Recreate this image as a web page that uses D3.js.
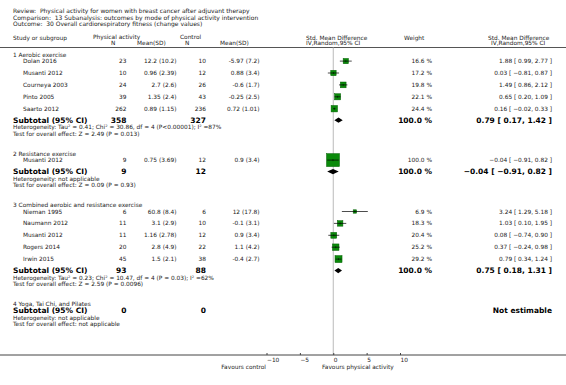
<!DOCTYPE html>
<html>
<head>
<meta charset="utf-8">
<script src="https://cdnjs.cloudflare.com/ajax/libs/d3/7.8.5/d3.min.js"></script>
<style>
	body { margin: 0; background: #fff; }
	text { font-family: "DejaVu Sans", sans-serif; fill: #222; white-space: pre; }
	.b { font-weight: bold; fill: #000; }
</style>
</head>
<body>
<div id="forest"></div>
<script>
var titleLines = [
	'Review:  Physical activity for women with breast cancer after adjuvant therapy',
	'Comparison:  13 Subanalysis: outcomes by mode of physical activity intervention',
	'Outcome:  30 Overall cardiorespiratory fitness (change values)'
];

var groupNames = [
	'1 Aerobic exercise',
	'2 Resistance exercise',
	'3 Combined aerobic and resistance exercise',
	'4 Yoga, Tai Chi, and Pilates'
];

// one entry per study
var studyNames = ['Dolan 2016', 'Musanti 2012', 'Courneya 2003', 'Pinto 2005', 'Saarto 2012',
	'Musanti 2012',
	'Nieman 1995', 'Naumann 2012', 'Musanti 2012', 'Rogers 2014', 'Irwin 2015'];
var studyGroup = [0, 0, 0, 0, 0, 1, 2, 2, 2, 2, 2];
var paN      = [23, 10, 24, 39, 262, 9, 6, 11, 11, 20, 45];
var paMean   = ['12.2 (10.2)', '0.96 (2.39)', '2.7 (2.6)', '1.35 (2.4)', '0.89 (1.15)',
	'0.75 (3.69)',
	'60.8 (8.4)', '3.1 (2.9)', '1.16 (2.78)', '2.8 (4.9)', '1.5 (2.1)'];
var ctlN     = [10, 12, 26, 43, 236, 12, 6, 10, 12, 22, 38];
var ctlMean  = ['-5.97 (7.2)', '0.88 (3.4)', '-0.6 (1.7)', '-0.25 (2.5)', '0.72 (1.01)',
	'0.9 (3.4)',
	'12 (17.8)', '-0.1 (3.1)', '0.9 (3.4)', '1.1 (4.2)', '-0.4 (2.7)'];
var weights  = [16.6, 17.2, 19.8, 22.1, 24.4, 100.0, 6.9, 18.3, 20.4, 25.2, 29.2];
var smd      = [1.88, 0.03, 1.49, 0.65, 0.16, -0.04, 3.24, 1.03, 0.08, 0.37, 0.79];
var ciLow    = [0.99, -0.81, 0.86, 0.20, -0.02, -0.91, 1.29, 0.10, -0.74, -0.24, 0.34];
var ciHigh   = [2.77, 0.87, 2.12, 1.09, 0.33, 0.82, 5.18, 1.95, 0.90, 0.98, 1.24];

// one entry per subgroup
var subPaN   = [358, 9, 93, 0];
var subCtlN  = [327, 12, 88, 0];
var subSmd   = [0.79, -0.04, 0.75, null];
var subLow   = [0.17, -0.91, 0.18, null];
var subHigh  = [1.42, 0.82, 1.31, null];
var heterogeneity = [
	'Heterogeneity: Tau\u00b2 = 0.41; Chi\u00b2 = 30.86, df = 4 (P<0.00001); I\u00b2 =87%',
	'Heterogeneity: not applicable',
	'Heterogeneity: Tau\u00b2 = 0.23; Chi\u00b2 = 10.47, df = 4 (P = 0.03); I\u00b2 =62%',
	'Heterogeneity: not applicable'
];
var overallEffect = [
	'Test for overall effect: Z = 2.49 (P = 0.013)',
	'Test for overall effect: Z = 0.09 (P = 0.93)',
	'Test for overall effect: Z = 2.59 (P = 0.0096)',
	'Test for overall effect: not applicable'
];

var tickValues = [-10, -5, 0, 5, 10];


var width  = 566;
var height = 385;
var small  = 5.85;
var big    = 7.5;

var f2 = d3.format('.2f');
var f1 = d3.format('.1f');
function ciText(e, lo, hi) {
	return f2(e) + ' [ ' + f2(lo) + ', ' + f2(hi) + ' ]';
}

var x_scale = d3.scaleLinear().domain([-10, 10]).range([266.5, 400]);
var box_scale = d3.scaleSqrt().domain([0, 100]).range([0, 13]);

var svg = d3.select('#forest')
	.append('svg')
	.attr('width', width)
	.attr('height', height);

function label(x, y, str, size, anchor, cls) {
	return svg.append('text')
		.attr('x', x)
		.attr('y', y)
		.attr('dy', '0.35em')
		.attr('font-size', size)
		.attr('text-anchor', anchor || 'start')
		.attr('class', cls || null)
		.text(str);
}

// Title block
titleLines.forEach(function(t, i) {
	label(13, 11 + i * 6.6, t, 6.0);
});

// Column headers
label(13, 38, 'Study or subgroup', small);
label(93, 36.5, 'Physical activity', small);
label(111, 43, 'N', small);
label(137, 43, 'Mean(SD)', small);
label(180, 36.5, 'Control', small);
label(185, 43, 'N', small);
label(220, 43, 'Mean(SD)', small);
label(306, 37.5, 'Std. Mean Difference', small);
label(306, 43.3, 'IV,Random,95% CI', small);
label(404, 38, 'Weight', small);
label(488, 37.5, 'Std. Mean Difference', small);
label(491, 43.3, 'IV,Random,95% CI', small);

svg.append('line')
	.attr('x1', 0).attr('x2', width)
	.attr('y1', 47.5).attr('y2', 47.5)
	.attr('stroke', '#555').attr('stroke-width', 1);

var axisY = 355;

// zero line
svg.append('line')
	.attr('x1', x_scale(0)).attr('x2', x_scale(0))
	.attr('y1', 47.5).attr('y2', axisY)
	.attr('stroke', '#bbb').attr('stroke-width', 1);

// Rows
var cursor = 54.5;
groupNames.forEach(function(g, gi) {
	label(13, cursor, g, small);
	cursor += 6.6;

	var n = 0;
	studyNames.forEach(function(name, i) {
		if (studyGroup[i] !== gi) return;
		var y = cursor;
		label(23, y, name, small);
		label(126.5, y, paN[i], small, 'end');
		label(176.5, y, paMean[i], small, 'end');
		label(206, y, ctlN[i], small, 'end');
		label(259.5, y, ctlMean[i], small, 'end');
		label(432, y, f1(weights[i]) + ' %', small, 'end');
		label(552, y, ciText(smd[i], ciLow[i], ciHigh[i]), small, 'end');

		var s = box_scale(weights[i]);
		svg.append('rect')
			.attr('x', x_scale(smd[i]) - s / 2)
			.attr('y', y - s / 2)
			.attr('width', s)
			.attr('height', s)
			.attr('fill', '#0a8a0a')
			.attr('stroke', '#056005')
			.attr('stroke-width', 0.5);
		svg.append('line')
			.attr('x1', x_scale(ciLow[i])).attr('x2', x_scale(ciHigh[i]))
			.attr('y1', y).attr('y2', y)
			.attr('stroke', '#000').attr('stroke-width', 0.7);
		svg.append('line')
			.attr('x1', x_scale(smd[i])).attr('x2', x_scale(smd[i]))
			.attr('y1', y - 1).attr('y2', y + 1)
			.attr('stroke', '#000').attr('stroke-width', 0.5);
		cursor += 11.9;
		n++;
	});

	// Subtotal
	var ys = n ? cursor - 0.4 : cursor;
	label(13, ys, 'Subtotal (95% CI)', big, 'start', 'b');
	label(126.5, ys, subPaN[gi], big, 'end', 'b');
	label(206, ys, subCtlN[gi], big, 'end', 'b');
	if (subSmd[gi] !== null) {
		label(432, ys, '100.0 %', big, 'end', 'b');
		label(552, ys, ciText(subSmd[gi], subLow[gi], subHigh[gi]), big, 'end', 'b');
		var h = 2.6;
		var pts = [
			[x_scale(subLow[gi]), ys],
			[x_scale(subSmd[gi]), ys - h],
			[x_scale(subHigh[gi]), ys],
			[x_scale(subSmd[gi]), ys + h]
		];
		svg.append('path')
			.attr('d', d3.line()(pts) + 'Z')
			.attr('fill', '#000');
	} else {
		label(552, ys, 'Not estimable', big, 'end', 'b');
	}
	label(13, ys + 7, heterogeneity[gi], small);
	label(13, ys + 13.5, overallEffect[gi], small);
	cursor = ys + 13.5 + 19.8;
});

// Axis
var x_axis = d3.axisBottom(x_scale)
	.tickValues(tickValues)
	.tickSizeInner(-2)
	.tickSizeOuter(0)
	.tickPadding(3)
	.tickFormat(d3.format('d'));

var ax = svg.append('g')
	.attr('transform', 'translate(0,' + axisY + ')')
	.call(x_axis);
ax.select('.domain').remove();
ax.selectAll('.tick line').attr('stroke', '#444');
ax.selectAll('.tick text')
	.attr('text-anchor', 'start')
	.attr('font-family', 'DejaVu Sans')
	.attr('font-size', small)
	.attr('fill', '#222');

svg.append('line')
	.attr('x1', 0).attr('x2', width)
	.attr('y1', axisY).attr('y2', axisY)
	.attr('stroke', '#444').attr('stroke-width', 1);

label(266, 367, 'Favours control', small, 'end');
label(322, 367, 'Favours physical activity', small);
</script>
</body>
</html>
